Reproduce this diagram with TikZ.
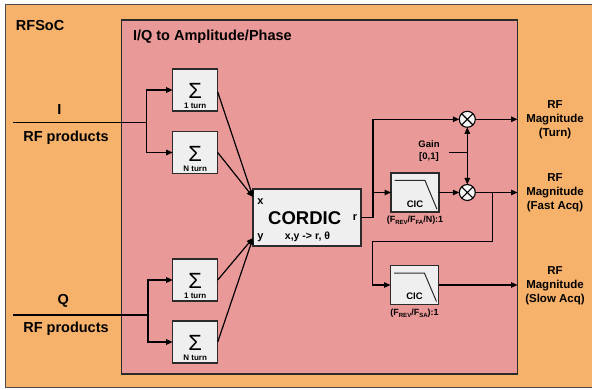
\documentclass[tikz,border=0pt]{standalone}
\usepackage{fontspec}
\setmainfont{Liberation Sans}
\usetikzlibrary{arrows.meta,calc}
\definecolor{rfsoc}{HTML}{F6B26B}
\definecolor{iqbox}{HTML}{EA9999}
\definecolor{boxgray}{HTML}{EFEFEF}
\definecolor{edge}{HTML}{2B2B2B}
\newcommand{\fs}[2]{\fontsize{#1}{#2}\selectfont}
\begin{document}
\begin{tikzpicture}[x=1pt,y=-1pt,
  every node/.style={inner sep=0pt, outer sep=0pt, text=black},
  lbl/.style={font=\bfseries\fs{14.5}{17}},
  rlbl/.style={font=\bfseries\fs{11.5}{14}, align=center},
  blk/.style={draw=edge, fill=boxgray, line width=1.1pt},
  ln/.style={line width=1.2pt, draw=black},
  arr/.style={ln, -{Triangle[length=6.5pt,width=5.5pt]}},
  darr/.style={ln, {Triangle[length=6.5pt,width=5.5pt]}-{Triangle[length=6.5pt,width=5.5pt]}},
  mult/.style={circle, draw=black, fill=boxgray!60!white, line width=1.1pt, minimum size=16pt,
    path picture={\draw[line width=1.1pt] (path picture bounding box.north west) -- (path picture bounding box.south east)
      (path picture bounding box.north east) -- (path picture bounding box.south west);}},
  resp/.style={draw=edge, line width=1pt},
  sig/.style={font=\fs{22}{22}},
  turn/.style={font=\bfseries\fs{8}{8}},
  small/.style={font=\bfseries\fs{9.5}{11.5}, align=center}
]
\useasboundingbox (0,0) rectangle (592,390);
% outer RFSoC region
\fill[rfsoc] (5,5) rectangle (592,387);
\draw[draw=black!70, line width=1pt] (592,5) -- (5,5) -- (5,387) -- (592,387);
\node[lbl, anchor=west] (rfsoc) at (16,26) {RFSoC};
% inner block
\draw[fill=iqbox, draw=edge, line width=1.2pt] (121.7,20) rectangle (517.5,374);
\node[lbl, anchor=west] (iqtitle) at (133,36.5) {I/Q to Amplitude/Phase};

% left labels
\node[lbl] (ilab) at (59.3,110) {I};
\node[lbl] (irf) at (66,138) {RF products};
\node[lbl] (qlab) at (63.3,300.5) {Q};
\node[lbl] (qrf) at (66,329) {RF products};

% sum boxes
\foreach \n/\y/\t in {i1/90/1 turn, iN/152.5/N turn, q1/280/1 turn, qN/342/N turn}{
  \node[blk, minimum width=45pt, minimum height=42pt] (\n) at (195.2,\y) {};
  \node[sig] (\n s) at ($(\n.center)+(0,1)$) {Σ};
  \node[turn] (\n t) at ($(\n.center)+(0,16)$) {\t};
}

% CORDIC
\node[blk, minimum width=108pt, minimum height=57pt] (cordic) at (307,217.5) {};
\node[font=\bfseries\fs{18.5}{20}] (cordt) at (304.7,218.3) {CORDIC};
\node[font=\bfseries\fs{11}{12}] (cx) at (260.5,201.7) {x};
\node[font=\bfseries\fs{11}{12}] (cy) at (260.5,237.5) {y};
\node[font=\bfseries\fs{11}{12}] (cr) at (355,218) {r};
\node[font=\bfseries\fs{10.5}{12}] (cf) at (307.5,236.7) {x,y -> r, θ};
\coordinate (cin x) at (253,197);
\coordinate (cin y) at (253,238);

% inputs
\coordinate (iin) at (13,122.7);
\coordinate (ij) at (146.7,122.7);
\draw[ln] (iin) -- (ij);
\draw[arr] (ij) |- (i1.west);
\draw[arr] (ij) |- (iN.west);
\coordinate (qin) at (13,315);
\coordinate (qj) at (148,315);
\draw[ln] (qin) -- (qj);
\draw[arr] (qj) |- (q1.west);
\draw[arr] (qj) |- (qN.west);

\draw[arr] ($(i1.east)+(0,2)$) -- (cin x);
\draw[arr] (iN.east) -- (cin x);
\draw[arr] (q1.east) -- (cin y);
\draw[arr] (qN.east) -- (cin y);

% CIC filters
\node[blk, minimum width=48pt, minimum height=39pt] (cic1) at (415,192.5) {};
\node[blk, minimum width=48pt, minimum height=38.5pt] (cic2) at (414.5,285) {};
\foreach \c in {cic1,cic2}{
  \draw[resp] ($(\c.north west)+(3.5,7.5)$) -- ($(\c.north west)+(34,7.5)$) -- ($(\c.south east)+(-2,-2.7)$);
  \node[font=\bfseries\fs{9.5}{10}] (\c t) at ($(\c.center)+(0,11.5)$) {CIC};
}
\node[font=\bfseries\fs{9}{10}] (cic1l) at (415,220.5) {(F\raisebox{-2pt}{\fs{6}{6}REV}/F\raisebox{-2pt}{\fs{6}{6}FA}/N):1};
\node[font=\bfseries\fs{9}{10}] (cic2l) at (414.5,313.5) {(F\raisebox{-2pt}{\fs{6}{6}REV}/F\raisebox{-2pt}{\fs{6}{6}SA}):1};

% multipliers
\node[mult] (m1) at (467.3,119.3) {};
\node[mult] (m2) at (467.3,192.5) {};

% r output routing
\coordinate (rt) at (373,119.3);
\draw[arr] (cordic.east) -| (rt) -- (m1.west);
\draw[arr] (rt |- cic1.west) -- (cic1.west);
\draw[arr] (cic1.east) -- (m2.west);

% gain
\node[small] (gain) at (429,151) {Gain\\{}[0,1]};
\coordinate (g0) at (449.3,152.3);
\coordinate (g1) at (467.3,152.3);
\draw[ln] (g0) -- (g1);
\draw[darr] (m1.south) -- (m2.north);

% outputs
\coordinate (o1) at (517.5,119.3);
\coordinate (o2) at (517.5,192.5);
\coordinate (o3) at (517.5,285);
\draw[arr] (m1.east) -- (o1);
\draw[arr] (m2.east) -- (o2);
\draw[arr] (cic2.east) -- (o3);

% branch to slow acq
\coordinate (b1) at (492.7,192.5);
\coordinate (bl) at (372.7,241.7);
\draw[arr] (b1) |- (bl) |- (cic2.west);

% right labels
\node[rlbl] (out1) at (555,119.3) {RF\\Magnitude\\(Turn)};
\node[rlbl] (out2) at (555,192.7) {RF\\Magnitude\\(Fast Acq)};
\node[rlbl] (out3) at (555,285.5) {RF\\Magnitude\\(Slow Acq)};
\end{tikzpicture}
\end{document}
